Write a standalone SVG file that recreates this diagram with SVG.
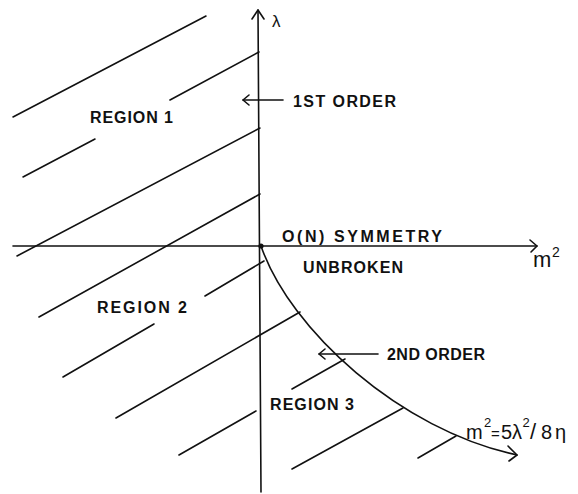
<svg xmlns="http://www.w3.org/2000/svg" width="578" height="494" viewBox="0 0 578 494">
<style>
.ln{stroke:#111;stroke-width:1.6;fill:none;stroke-linecap:round;stroke-linejoin:round}
.lb{font-family:"Liberation Sans",Arial,sans-serif;font-weight:bold;font-size:16px;fill:#111}
.mt{font-family:"Liberation Sans",Arial,sans-serif;fill:#111}
</style>
<rect width="578" height="494" fill="#fff"/>
<g id="axes">
<line class="ln" x1="258" y1="10" x2="261" y2="492"/>
<path class="ln" d="M252,19 L258,10 L264,19"/>
<line class="ln" x1="13" y1="246" x2="537" y2="246"/>
<path class="ln" d="M530,240 L537,246 L531,252"/>
<circle cx="261" cy="246" r="2.6" fill="#111"/>
</g>
<g id="hatching">
<line class="ln" x1="13" y1="117" x2="206" y2="16"/>
<line class="ln" x1="170" y1="100" x2="259" y2="52"/>
<line class="ln" x1="23" y1="177" x2="95" y2="139"/>
<line class="ln" x1="17" y1="256" x2="260" y2="128"/>
<line class="ln" x1="39" y1="317" x2="260" y2="194"/>
<line class="ln" x1="205" y1="296" x2="264" y2="261"/>
<line class="ln" x1="63" y1="377" x2="154" y2="324"/>
<line class="ln" x1="116" y1="418" x2="300" y2="312"/>
<line class="ln" x1="179" y1="455" x2="256" y2="411"/>
<line class="ln" x1="292" y1="389" x2="345" y2="359"/>
<line class="ln" x1="292" y1="469" x2="403" y2="408"/>
<line class="ln" x1="418" y1="458" x2="456" y2="436"/>
</g>
<g id="connectors">
<path class="ln" d="M261,246 C290,330 400,430 517,455"/>
<path class="ln" d="M508,446 L517,455 L509,461"/>
<line class="ln" x1="283" y1="100" x2="243" y2="100"/>
<path class="ln" d="M249,95 L243,100 L249,105"/>
<line class="ln" x1="378" y1="354" x2="319" y2="354"/>
<path class="ln" d="M325,349 L319,354 L325,359"/>
</g>
<g id="labels">
<text class="mt" x="272" y="27" font-size="17">λ</text>
<text class="lb" x="293" y="107" textLength="103" lengthAdjust="spacing">1ST ORDER</text>
<text class="lb" x="90" y="123" textLength="83" lengthAdjust="spacing">REGION 1</text>
<text class="lb" x="282" y="242" textLength="160" lengthAdjust="spacing">O(N) SYMMETRY</text>
<text class="lb" x="303" y="273" textLength="100" lengthAdjust="spacing">UNBROKEN</text>
<text class="lb" x="97" y="313" textLength="90" lengthAdjust="spacing">REGION 2</text>
<text class="lb" x="270" y="410" textLength="84" lengthAdjust="spacing">REGION 3</text>
<text class="lb" x="387" y="360" textLength="98" lengthAdjust="spacing">2ND ORDER</text>
<text class="mt" x="533" y="267" font-size="22">m</text>
<text class="mt" x="552" y="257" font-size="14">2</text>
<text class="mt" y="439" font-size="20"><tspan x="466">m</tspan><tspan x="484" font-size="13" dy="-12">2</tspan><tspan x="491" dy="12" font-size="15">=</tspan><tspan x="501">5</tspan><tspan x="512">λ</tspan><tspan x="522.5" font-size="13" dy="-12">2</tspan><tspan x="530" dy="12" font-size="22">/</tspan><tspan x="541">8</tspan><tspan x="555">η</tspan></text>
</g>
</svg>
